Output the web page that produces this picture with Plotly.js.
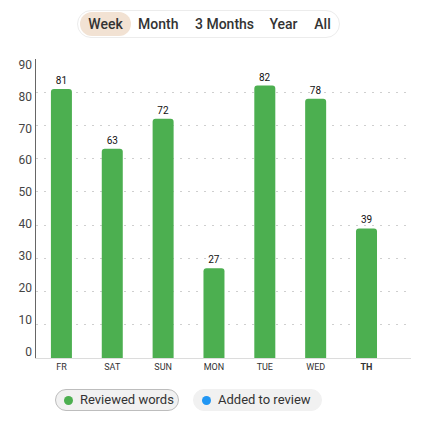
<!DOCTYPE html>
<html>
<head>
<meta charset="utf-8">
<script src="https://cdn.plot.ly/plotly-3.0.1.min.js"></script>
<style>
    html, body { margin: 0; padding: 0; background: #fff; font-family: Roboto, sans-serif; }
    #wrap { position: relative; width: 425px; height: 425px; overflow: hidden; }
    #chart { position: absolute; left: 0; top: 0; width: 425px; height: 425px; }
    .range-group {
        position: absolute; left: 77px; top: 10px; width: 261px; height: 26px;
        border: 1px solid #ececec; border-radius: 14px; background: #fff;
    }
    .range-btn {
        position: absolute; top: 1px; height: 24px; line-height: 24px;
        font-size: 14px; font-weight: 500; color: #333; white-space: nowrap; text-align: center;
    }
    .range-btn.active { background: #f2e2d3; border-radius: 12px; }
    .legend-pill {
        position: absolute; top: 389px; height: 20px; line-height: 20px;
        border-radius: 11px; background: #f1f1f1; font-size: 13px; color: #333;
    }
    .legend-pill .dot {
        position: absolute; top: 5.5px; width: 9px; height: 9px; border-radius: 50%;
    }
</style>
</head>
<body>
<div id="wrap">
    <div id="chart"></div>
    <div class="range-group" id="ranges"></div>
    <div id="legend"></div>
</div>
<script>
// chart data
const days = ['FR', 'SAT', 'SUN', 'MON', 'TUE', 'WED', 'TH'];
const reviewedWords = [81, 63, 72, 27, 82, 78, 39];
const yTicks = [0, 10, 20, 30, 40, 50, 60, 70, 80, 90];
const rangeLabels = ['Week', 'Month', '3 Months', 'Year', 'All'];
const seriesNames = ['Reviewed words', 'Added to review'];

const GREEN = '#4caf50';
const BLUE = '#2196f3';

// range selector (HTML chrome)
const btnPos = [
    { left: 2, width: 51 },
    { left: 60, width: 40 },
    { left: 117, width: 59 },
    { left: 191, width: 29 },
    { left: 236, width: 17 }
];
const ranges = document.getElementById('ranges');
rangeLabels.forEach((label, i) => {
    const b = document.createElement('div');
    b.className = 'range-btn' + (i === 0 ? ' active' : '');
    b.style.left = btnPos[i].left + 'px';
    b.style.width = btnPos[i].width + 'px';
    b.textContent = label;
    ranges.appendChild(b);
});

// legend pills
const legend = document.getElementById('legend');
const pillPos = [
    { left: 55, width: 122, border: '1px solid #bdbdbd', color: GREEN },
    { left: 193, width: 127, border: '1px solid #f1f1f1', color: BLUE }
];
seriesNames.forEach((name, i) => {
    const p = document.createElement('div');
    p.className = 'legend-pill';
    p.style.left = pillPos[i].left + 'px';
    p.style.width = pillPos[i].width + 'px';
    p.style.border = pillPos[i].border;
    p.innerHTML = `<span class="dot" style="left:8px;background:${pillPos[i].color}"></span>` +
        `<span style="position:absolute;left:24px;">${name}</span>`;
    legend.appendChild(p);
});

Plotly.newPlot('chart', [{
    type: 'bar',
    x: days,
    y: reviewedWords,
    name: seriesNames[0],
    width: 0.413,
    marker: { color: GREEN, cornerradius: 3 },
    text: reviewedWords.map(String),
    textposition: 'outside',
    cliponaxis: false,
    textfont: { family: 'Roboto, sans-serif', size: 10, color: '#111' }
}, {
    // invisible helper so the label axis gets drawn
    type: 'scatter', x: [days[0]], y: [0], yaxis: 'y2',
    mode: 'markers', marker: { opacity: 0 }, hoverinfo: 'skip', showlegend: false
}], {
    width: 425,
    height: 425,
    paper_bgcolor: '#fff',
    plot_bgcolor: '#fff',
    showlegend: false,
    margin: { l: 36, r: 14, t: 59, b: 67, pad: 0 },
    font: { family: 'Roboto, sans-serif', color: '#333' },
    xaxis: {
        type: 'category',
        range: [-0.5, 6.875],
        tickvals: days,
        ticktext: days.map(d => d === 'TH' ? '<b>TH</b>' : d),
        tickfont: { size: 9, color: '#333' },
        showgrid: false,
        zeroline: false,
        showline: true,
        linecolor: '#dcdcdc',
        linewidth: 1,
        ticks: '',
        ticklabelstandoff: 0
    },
    yaxis: {
        range: [0, 90],
        tickvals: yTicks,
        showticklabels: false,
        showgrid: true,
        gridcolor: '#cfcfcf',
        griddash: '2px,6px',
        gridwidth: 1,
        zeroline: false,
        showline: true,
        linecolor: '#666',
        linewidth: 1,
        ticks: ''
    },
    // tick labels sit on a slightly different scale than the grid, as in the source
    yaxis2: {
        overlaying: 'y',
        side: 'left',
        range: [-2.07, 91.79],
        tickvals: yTicks,
        tickfont: { size: 12, color: '#444' },
        ticklabelstandoff: 3,
        showgrid: false,
        zeroline: false,
        showline: false,
        ticks: ''
    }
}, { displayModeBar: false, staticPlot: true });
</script>
</body>
</html>
